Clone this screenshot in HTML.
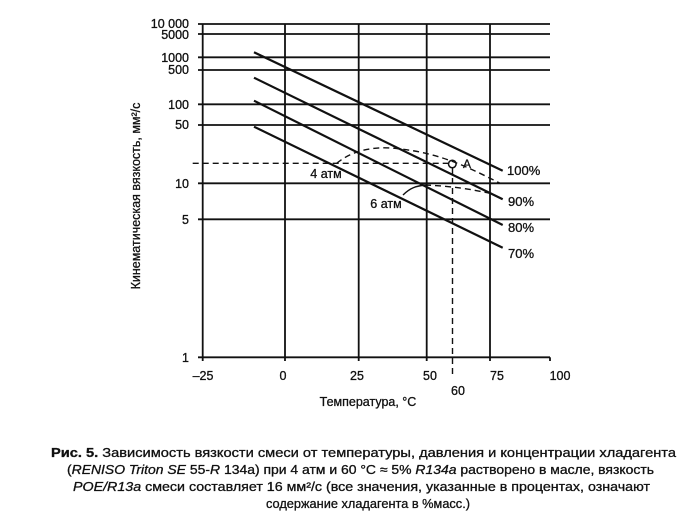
<!DOCTYPE html>
<html><head><meta charset="utf-8"><style>
html,body{margin:0;padding:0;background:#fff;}
svg{display:block;font-family:"Liberation Sans",sans-serif;}
</style></head><body>
<svg width="700" height="530" viewBox="0 0 700 530" xmlns="http://www.w3.org/2000/svg">
<g stroke="#111" stroke-width="1.8" fill="none">
<line x1="198" y1="24" x2="550" y2="24"/>
<line x1="198" y1="34" x2="550" y2="34"/>
<line x1="198" y1="57.3" x2="550" y2="57.3"/>
<line x1="198" y1="70" x2="550" y2="70"/>
<line x1="198" y1="104.3" x2="550" y2="104.3"/>
<line x1="198" y1="125" x2="550" y2="125"/>
<line x1="198" y1="183.3" x2="550" y2="183.3"/>
<line x1="198" y1="219.3" x2="550" y2="219.3"/>
<line x1="198" y1="357.3" x2="550" y2="357.3"/>
<line x1="202.7" y1="24" x2="202.7" y2="361"/>
<line x1="285" y1="24" x2="285" y2="361"/>
<line x1="358.7" y1="24" x2="358.7" y2="361"/>
<line x1="426.7" y1="24" x2="426.7" y2="361"/>
<line x1="490" y1="24" x2="490" y2="361"/>
<line x1="550" y1="357.3" x2="550" y2="361"/>
<g stroke-width="2.2">
<line x1="254" y1="52.3" x2="502.7" y2="170.7"/>
<line x1="254" y1="77.7" x2="502.7" y2="199.3"/>
<line x1="254" y1="100.7" x2="502.7" y2="225"/>
<line x1="254" y1="126.7" x2="502.7" y2="247.7"/>
</g>
<g stroke-width="1.4" stroke-dasharray="6,4">
<line x1="192.7" y1="163.3" x2="448" y2="163.3"/>
<line x1="452.5" y1="168" x2="452.5" y2="378"/>
<path d="M336.7,163.3 C355,148 380,146 400,149 C440,153 470,168 500,183.3"/>
<path d="M425,185 C450,186 470,189 490,193.3"/>
</g>
<path d="M403,195 C410,188 416,186 425,185" stroke-width="1.4"/>
<circle cx="452.3" cy="164" r="3.8" stroke-width="1.5"/>
</g>
<g fill="#111" stroke="#111" stroke-width="0.3">
<g font-size="12.5" text-anchor="end">
<text x="189" y="28">10 000</text>
<text x="189" y="39">5000</text>
<text x="189" y="62">1000</text>
<text x="189" y="74">500</text>
<text x="189" y="109">100</text>
<text x="189" y="129">50</text>
<text x="189" y="188">10</text>
<text x="189" y="224">5</text>
<text x="189" y="362">1</text>
</g>
<g font-size="12.5" text-anchor="middle">
<text x="203" y="380">–25</text>
<text x="283" y="380">0</text>
<text x="357" y="380">25</text>
<text x="430" y="380">50</text>
<text x="497" y="380">75</text>
<text x="560" y="380">100</text>
<text x="458" y="395">60</text>
<text x="368" y="406">Температура, °С</text>
<text x="326" y="178">4 атм</text>
<text x="386" y="208">6 атм</text>
<text x="467" y="168" font-size="12">A</text>
</g>
<g font-size="13">
<text x="507" y="175">100%</text>
<text x="508" y="206">90%</text>
<text x="508" y="232">80%</text>
<text x="508" y="258">70%</text>
</g>
<text transform="translate(140,196) rotate(-90)" font-size="12.5" text-anchor="middle">Кинематическая вязкость, мм²/с</text>
<g font-size="13">
<text x="51" y="457" textLength="625" lengthAdjust="spacingAndGlyphs"><tspan font-weight="bold">Рис. 5.</tspan> Зависимость вязкости смеси от температуры, давления и концентрации хладагента</text>
<text x="67" y="474" textLength="587" lengthAdjust="spacingAndGlyphs">(<tspan font-style="italic">RENISO Triton SE</tspan> 55-<tspan font-style="italic">R</tspan> 134a) при 4 атм и 60 °С ≈ 5% <tspan font-style="italic">R134a</tspan> растворено в масле, вязкость</text>
<text x="73" y="491" textLength="577" lengthAdjust="spacingAndGlyphs"><tspan font-style="italic">POE/R13a</tspan> смеси составляет 16 мм²/с (все значения, указанные в процентах, означают</text>
<text x="266" y="508" textLength="204" lengthAdjust="spacingAndGlyphs">содержание хладагента в %масс.)</text>
</g>
</g>
</svg>
</body></html>
